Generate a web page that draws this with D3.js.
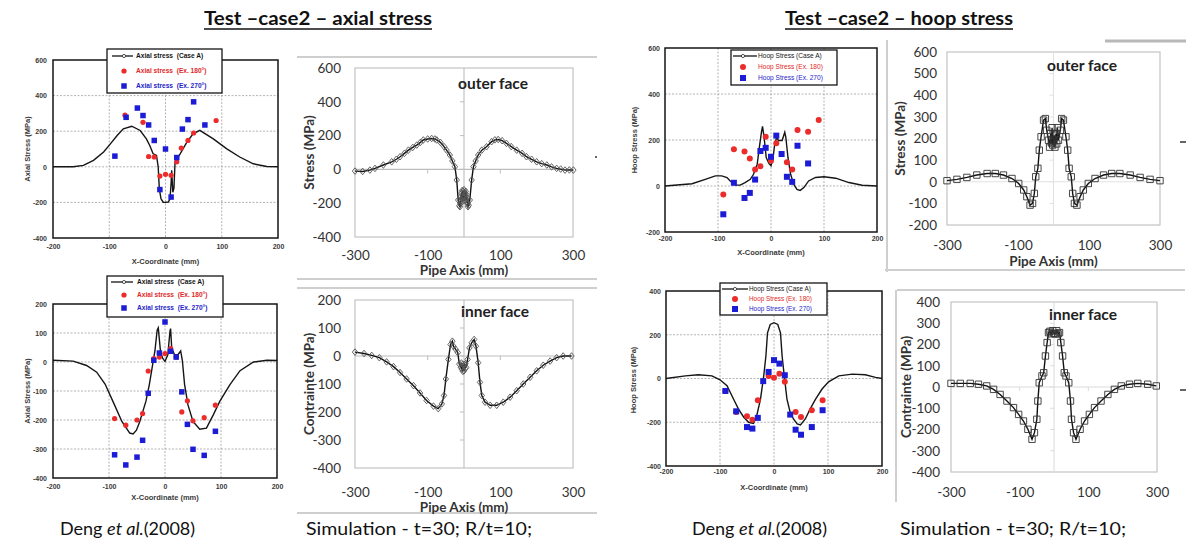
<!DOCTYPE html>
<html>
<head>
<meta charset="utf-8">
<script src="https://cdn.jsdelivr.net/npm/d3@7"></script>
<style>
body { margin: 0; background: #fff; }
</style>
</head>
<body>
<script>
// values, one array per series
var dengXTicks = [-200, -100, 0, 100, 200];
var simXTicks = [-300, -100, 100, 300];

var axialTopYTicks = [600, 400, 200, 0, -200, -400];
var axialBotYTicks = [200, 100, 0, -100, -200, -300, -400];
var hoopTopYTicks = [600, 400, 200, 0, -200];
var hoopBotYTicks = [400, 200, 0, -200, -400];
var simAxialOuterTicks = [600, 400, 200, 0, -200, -400];
var simAxialInnerTicks = [200, 100, 0, -100, -200, -300, -400];
var simHoopOuterTicks = [600, 500, 400, 300, 200, 100, 0, -100, -200];
var simHoopInnerTicks = [400, 300, 200, 100, 0, -100, -200, -300, -400];

var axialLegend = ['Axial stress  (Case A)', 'Axial stress  (Ex. 180°)', 'Axial stress  (Ex. 270°)'];
var hoopLegend = ['Hoop Stress (Case A)', 'Hoop Stress (Ex. 180)', 'Hoop Stress (Ex. 270)'];

// Deng et al. - axial, outer
var axialTopLine = [[-200,0],[-164,0],[-146,8],[-128,36],[-110,83],[-98,129],[-86,176],[-75,213],[-60,228],[-45,204],[-34,157],[-28,120],[-22,73],[-16,64],[-13,0],[-11,-124],[-8,-180],[-4,-199],[0,-200],[5,-198],[8,-180],[10,-90],[11,-19],[13,-143],[15,-120],[17,27],[26,73],[38,138],[49,185],[61,205],[85,157],[109,101],[132,55],[156,17],[180,2],[200,0]];
var axialTopRed = [[-72,290],[-40,250],[-30,58],[-20,55],[-10,-52],[0,-42],[10,-48],[20,28],[28,105],[40,148],[50,190],[90,260]];
var axialTopBlue = [[-90,60],[-70,278],[-50,330],[-40,288],[-30,235],[-20,148],[-10,-128],[0,100],[10,-170],[20,52],[30,212],[40,265],[50,365],[70,235]];

// Deng et al. - axial, inner
var axialBotLine = [[-200,6],[-164,3],[-140,-12],[-122,-35],[-107,-76],[-92,-140],[-77,-205],[-63,-245],[-57,-248],[-51,-235],[-45,-205],[-34,-135],[-28,-78],[-22,-8],[-18,38],[-14,110],[-12,118],[-8,35],[-4,12],[0,2],[5,25],[9,108],[10,115],[12,48],[17,25],[23,25],[28,38],[31,5],[35,-78],[41,-148],[50,-205],[62,-232],[74,-228],[86,-183],[98,-135],[116,-78],[134,-30],[158,0],[182,6],[200,5]];
var axialBotRed = [[-90,-195],[-70,-218],[-50,-200],[-40,-178],[-30,-31],[-20,12],[-10,17],[0,29],[10,46],[20,17],[30,-172],[40,-134],[50,-203],[70,-192],[90,-149]];
var axialBotBlue = [[-90,-320],[-70,-355],[-50,-328],[-40,-270],[-30,-108],[-20,6],[-10,31],[0,138],[10,37],[20,17],[30,-103],[40,-215],[50,-301],[70,-322],[90,-239]];

// Deng et al. - hoop, outer
var hoopTopLine = [[-200,0],[-149,10],[-124,29],[-105,44],[-93,44],[-83,37],[-77,22],[-67,4],[-58,4],[-49,15],[-39,29],[-33,51],[-26,95],[-22,168],[-18,234],[-16,259],[-13,212],[-9,124],[-4,98],[0,88],[4,124],[7,183],[11,212],[14,198],[21,198],[26,234],[28,212],[32,124],[37,51],[43,7],[49,-15],[55,-19],[62,-7],[71,22],[84,37],[100,40],[122,34],[147,15],[172,3],[200,0]];
var hoopTopRed = [[-90,-37],[-70,160],[-50,150],[-40,120],[-30,72],[-20,86],[-10,214],[0,110],[10,186],[30,103],[40,72],[50,244],[70,236],[90,287]];
var hoopTopBlue = [[-90,-123],[-70,14],[-50,-52],[-40,-30],[-30,28],[-20,152],[-10,166],[0,127],[10,219],[20,139],[30,40],[40,18],[50,175],[70,98]];

// Deng et al. - hoop, inner
var hoopBotLine = [[-200,0],[-164,12],[-140,17],[-115,12],[-100,-6],[-87,-33],[-75,-94],[-66,-139],[-56,-177],[-47,-200],[-38,-205],[-32,-170],[-25,-94],[-19,12],[-15,103],[-12,209],[-7,247],[0,255],[7,247],[12,209],[15,103],[19,12],[24,-94],[30,-155],[36,-185],[43,-208],[49,-212],[58,-185],[67,-139],[77,-94],[89,-48],[101,-15],[120,12],[145,20],[169,17],[188,5],[200,0]];
var hoopBotRed = [[-90,-57],[-70,-153],[-50,-173],[-40,-188],[-30,-99],[-10,12],[0,3],[10,22],[20,-15],[40,-153],[50,-176],[70,-145],[90,-99]];
var hoopBotBlue = [[-90,-57],[-70,-150],[-50,-222],[-40,-229],[-30,-180],[-20,-12],[-10,30],[0,84],[10,68],[20,15],[30,-165],[40,-234],[50,-257],[70,-222],[90,-145]];

// simulation - axial
var simAxialOuter = [[-300,-10],[-279,-12],[-259,-4],[-245,6],[-222,26],[-199,45],[-186,60],[-176,75],[-164,95],[-153,114],[-141,130],[-130,144],[-120,160],[-112,174],[-100,180],[-89,183],[-80,180],[-75,174],[-65,160],[-55,135],[-48,114],[-39,85],[-32,50],[-25,16],[-20,-63],[-16,-181],[-13,-215],[-11,-221],[-10,-200],[-9,-185],[-8,-160],[-7,-140],[-6,-175],[-5,-125],[-4,-190],[-3,-160],[-2,-130],[-1,-170],[0,-120],[1,-165],[2,-135],[3,-185],[4,-145],[5,-130],[6,-180],[7,-150],[8,-170],[9,-195],[10,-205],[11,-221],[13,-212],[16,-181],[21,-63],[26,16],[32,50],[39,85],[49,114],[62,134],[76,164],[85,175],[94,177],[105,170],[117,154],[130,135],[145,114],[160,95],[172,75],[186,60],[200,45],[214,34],[228,26],[241,15],[255,6],[266,2],[278,-4],[290,-3],[301,-4]];
var simAxialInner = [[-300,14],[-275,9],[-254,2],[-233,-6],[-213,-21],[-194,-38],[-176,-59],[-158,-82],[-139,-106],[-121,-132],[-103,-159],[-84,-179],[-71,-188],[-61,-171],[-55,-141],[-50,-82],[-43,-12],[-37,41],[-32,53],[-29,35],[-23,24],[-17,12],[-13,-29],[-9,-40],[-7,-25],[-6,-47],[-4,-30],[-3,-55],[-1,-35],[0,-53],[1,-30],[3,-45],[4,-28],[6,-41],[10,-12],[15,29],[21,47],[28,59],[33,35],[39,-24],[44,-94],[49,-141],[58,-165],[72,-176],[90,-176],[108,-165],[127,-147],[145,-124],[163,-100],[182,-76],[200,-53],[218,-33],[237,-18],[255,-6],[273,0],[296,0]];

// simulation - hoop
var simHoopOuter = [[-300,5],[-272,11],[-244,20],[-216,31],[-187,38],[-164,38],[-141,31],[-117,15],[-98,-8],[-84,-38],[-75,-69],[-66,-108],[-59,-100],[-54,-54],[-50,23],[-44,62],[-40,146],[-35,208],[-28,285],[-23,292],[-19,238],[-14,192],[-11,160],[-8,223],[-6,180],[-4,250],[-2,170],[0,192],[2,215],[4,160],[7,223],[9,175],[11,250],[14,192],[19,238],[23,292],[28,285],[35,208],[40,146],[44,62],[50,23],[54,-54],[59,-100],[66,-108],[75,-69],[84,-38],[98,-8],[117,15],[141,31],[164,38],[187,38],[216,31],[244,20],[272,11],[300,5]];
var simHoopInner = [[-300,17],[-273,17],[-244,17],[-220,13],[-196,5],[-176,-11],[-157,-35],[-137,-66],[-118,-97],[-103,-129],[-89,-160],[-76,-199],[-64,-246],[-57,-215],[-50,-152],[-47,-66],[-43,20],[-35,52],[-30,67],[-25,146],[-20,209],[-16,256],[-12,262],[-8,250],[-4,265],[0,253],[4,250],[8,265],[12,250],[16,256],[20,209],[25,146],[30,67],[35,52],[43,20],[48,-66],[51,-152],[57,-215],[64,-246],[76,-199],[89,-160],[103,-129],[118,-97],[137,-66],[157,-35],[176,-11],[196,5],[220,13],[244,17],[273,13],[298,5]];

var svg = d3.select('body').append('svg')
  .attr('width', 1199)
  .attr('height', 545);

var asText = function(d) { return String(d); };

// scanned figure from Deng et al.
var dengPanel = function(p) {
  var x = d3.scaleLinear().domain([-200, 200]).range([p.x0, p.x1]);
  var y = d3.scaleLinear().domain([d3.min(p.yTicks), d3.max(p.yTicks)]).range([p.y1, p.y0]);
  var g = svg.append('g').style('font-family', '"Liberation Sans", Arial, sans-serif');

  g.selectAll('.gx').data(dengXTicks.slice(1, -1))
    .enter().append('line')
    .attr('x1', x).attr('x2', x).attr('y1', p.y0).attr('y2', p.y1)
    .attr('stroke', '#a0a0a0').attr('stroke-width', 0.8).attr('stroke-dasharray', '2,1.5');
  g.selectAll('.gy').data(p.yTicks.slice(1, -1))
    .enter().append('line')
    .attr('x1', p.x0).attr('x2', p.x1).attr('y1', y).attr('y2', y)
    .attr('stroke', '#a0a0a0').attr('stroke-width', 0.8).attr('stroke-dasharray', '2,1.5');

  g.append('path').datum(p.line)
    .attr('d', d3.line().x(function(d) { return x(d[0]); }).y(function(d) { return y(d[1]); }))
    .attr('fill', 'none').attr('stroke', '#151515').attr('stroke-width', 1.4);

  g.selectAll('.red').data(p.red)
    .enter().append('circle')
    .attr('cx', function(d) { return x(d[0]); })
    .attr('cy', function(d) { return y(d[1]); })
    .attr('r', p.dot)
    .attr('fill', '#ec2b2b');
  g.selectAll('.blue').data(p.blue)
    .enter().append('rect')
    .attr('x', function(d) { return x(d[0]) - p.sq / 2; })
    .attr('y', function(d) { return y(d[1]) - p.sq / 2; })
    .attr('width', p.sq).attr('height', p.sq)
    .attr('fill', '#1c1cd6');

  g.append('rect')
    .attr('x', p.x0).attr('y', p.y0)
    .attr('width', p.x1 - p.x0).attr('height', p.y1 - p.y0)
    .attr('fill', 'none').attr('stroke', '#151515').attr('stroke-width', 1.5);

  var ax = g.append('g').attr('transform', 'translate(0,' + p.xLabelY + ')')
    .call(d3.axisBottom(x).tickValues(dengXTicks).tickSize(0).tickFormat(asText));
  var ay = g.append('g').attr('transform', 'translate(' + p.yLabelX + ',0)')
    .call(d3.axisLeft(y).tickValues(p.yTicks).tickSize(0).tickPadding(0).tickFormat(asText));
  [ax, ay].forEach(function(a) {
    a.select('.domain').remove();
    a.selectAll('text').attr('font-size', 7).attr('font-weight', 'bold').attr('fill', '#3a3a3a')
      .attr('font-family', '"Liberation Sans", Arial, sans-serif');
  });
  ax.selectAll('text').attr('y', 0).attr('dy', '0.35em');

  g.append('text')
    .attr('x', (p.x0 + p.x1) / 2).attr('y', p.xTitleY)
    .attr('text-anchor', 'middle').attr('dy', '0.35em')
    .attr('font-size', 7.5).attr('font-weight', 'bold').attr('fill', '#3a3a3a')
    .text('X-Coordinate (mm)');
  g.append('text')
    .attr('transform', 'translate(' + p.yTitleX + ',' + p.yTitleY + ') rotate(-90)')
    .attr('text-anchor', 'middle').attr('dy', '0.35em')
    .attr('font-size', 7.5).attr('font-weight', 'bold').attr('fill', '#3a3a3a')
    .text(p.yTitle);

  // legend
  var L = p.legend;
  g.append('rect').attr('x', L.x).attr('y', L.y).attr('width', L.w).attr('height', L.h)
    .attr('fill', '#fff').attr('stroke', '#151515').attr('stroke-width', 1.3);
  g.append('line').attr('x1', L.s0).attr('x2', L.s1).attr('y1', L.rows[0]).attr('y2', L.rows[0])
    .attr('stroke', '#151515').attr('stroke-width', 1.3);
  g.append('circle').attr('cx', L.mark).attr('cy', L.rows[0]).attr('r', 1.6)
    .attr('fill', '#fff').attr('stroke', '#151515').attr('stroke-width', 0.7);
  g.append('circle').attr('cx', L.mark).attr('cy', L.rows[1]).attr('r', p.dot).attr('fill', '#ec2b2b');
  g.append('rect').attr('x', L.mark - p.sq / 2).attr('y', L.rows[2] - p.sq / 2)
    .attr('width', p.sq).attr('height', p.sq).attr('fill', '#1c1cd6');
  g.selectAll('.lt').data(p.names)
    .enter().append('text')
    .attr('x', L.text)
    .attr('y', function(d, i) { return L.rows[i]; })
    .attr('dy', '0.35em')
    .attr('font-size', L.size).attr('font-weight', L.weight)
    .attr('fill', function(d, i) { return ['#151515', '#e02828', '#2424c8'][i]; })
    .style('white-space', 'pre')
    .text(function(d) { return d; });
};

var diamond = 'M0,-3.3L2.7,0L0,3.3L-2.7,0Z';
var square = 'M-3.2,-3.2H3.2V3.2H-3.2Z';

// Excel simulation chart
var simPanel = function(p) {
  var x = d3.scaleLinear().domain([-300, 300]).range([p.x0, p.x1]);
  var y = d3.scaleLinear().domain([d3.min(p.yTicks), d3.max(p.yTicks)]).range([p.y1, p.y0]);
  var g = svg.append('g').style('font-family', 'Lato, "Open Sans", sans-serif');

  g.append('rect')
    .attr('x', p.x0).attr('y', p.y0)
    .attr('width', p.x1 - p.x0).attr('height', p.y1 - p.y0)
    .attr('fill', 'none').attr('stroke', '#c4c4c4').attr('stroke-width', 1.2);
  g.append('line').attr('x1', x(0)).attr('x2', x(0)).attr('y1', p.y0).attr('y2', p.y1)
    .attr('stroke', p.zero).attr('stroke-width', 1.1);
  g.append('line').attr('x1', p.x0).attr('x2', p.x1).attr('y1', y(0)).attr('y2', y(0))
    .attr('stroke', p.zero).attr('stroke-width', 1.1);
  g.selectAll('.tx').data(simXTicks.slice(1, -1))
    .enter().append('line')
    .attr('x1', x).attr('x2', x).attr('y1', y(0)).attr('y2', y(0) + 4)
    .attr('stroke', p.zero);
  g.selectAll('.ty').data(p.yTicks.slice(1, -1))
    .enter().append('line')
    .attr('x1', x(0) - 4).attr('x2', x(0)).attr('y1', y).attr('y2', y)
    .attr('stroke', p.zero);

  g.append('path').datum(p.data)
    .attr('d', d3.line().x(function(d) { return x(d[0]); }).y(function(d) { return y(d[1]); }))
    .attr('fill', 'none').attr('stroke', '#111').attr('stroke-width', 1.4);
  g.selectAll('.mk').data(p.data)
    .enter().append('path')
    .attr('d', p.marker)
    .attr('transform', function(d) { return 'translate(' + x(d[0]) + ',' + y(d[1]) + ')'; })
    .attr('fill', 'none').attr('stroke', p.markColor).attr('stroke-width', 0.9);

  var ax = g.append('g').attr('transform', 'translate(0,' + p.xLabelY + ')')
    .call(d3.axisBottom(x).tickValues(simXTicks).tickSize(0).tickFormat(asText));
  var ay = g.append('g').attr('transform', 'translate(' + p.yLabelX + ',0)')
    .call(d3.axisLeft(y).tickValues(p.yTicks).tickSize(0).tickPadding(0).tickFormat(asText));
  [ax, ay].forEach(function(a) {
    a.select('.domain').remove();
    a.selectAll('text').attr('font-size', 13.5).attr('fill', '#333')
      .attr('font-family', 'Lato, "Open Sans", sans-serif');
  });
  ax.selectAll('text').attr('y', 0).attr('dy', '0.35em');

  var xt = g.append('text')
    .attr('x', (p.x0 + p.x1) / 2).attr('y', p.xTitleY)
    .attr('text-anchor', 'middle').attr('dy', '0.35em')
    .attr('font-size', 13.5).attr('font-weight', 'bold').attr('fill', '#333')
    .text('Pipe Axis (mm)');
  if (p.clip) {
    svg.append('clipPath').attr('id', p.clip)
      .append('rect').attr('x', p.x0 - 60).attr('y', 0).attr('width', 300).attr('height', p.clipY);
    xt.attr('clip-path', 'url(#' + p.clip + ')');
  }
  g.append('text')
    .attr('transform', 'translate(' + p.yTitleX + ',' + (p.y0 + p.y1) / 2 + ') rotate(-90)')
    .attr('text-anchor', 'middle').attr('dy', '0.35em')
    .attr('font-size', 13.5).attr('font-weight', 'bold').attr('fill', '#333')
    .text(p.yTitle);
  g.append('text')
    .attr('x', p.face[0]).attr('y', p.face[1])
    .attr('text-anchor', 'middle').attr('dy', '0.35em')
    .attr('font-size', 15.5).attr('font-weight', 'bold').attr('fill', '#222')
    .text(p.faceText);
};

// picture frames around the pasted images
var frameLines = [
  [297, 57, 597, 57], [297, 279, 597, 279], [297, 288, 597, 288], [297, 513, 597, 513],
  [887, 40, 887, 272], [885, 270, 1185, 270], [897, 290, 1185, 290], [896, 290, 896, 502]
];
svg.selectAll('.frame').data(frameLines)
  .enter().append('line')
  .attr('x1', function(d) { return d[0]; }).attr('y1', function(d) { return d[1]; })
  .attr('x2', function(d) { return d[2]; }).attr('y2', function(d) { return d[3]; })
  .attr('stroke', '#cfcfcf').attr('stroke-width', 2);
svg.append('line').attr('x1', 1105).attr('x2', 1186).attr('y1', 41).attr('y2', 41)
  .attr('stroke', '#b8b8b8').attr('stroke-width', 3);
[[595, 157, 597, 157], [1180, 142, 1186, 142], [1180, 390, 1186, 390]].forEach(function(d) {
  svg.append('line').attr('x1', d[0]).attr('y1', d[1]).attr('x2', d[2]).attr('y2', d[3])
    .attr('stroke', '#333').attr('stroke-width', 1.5);
});

dengPanel({
  x0: 53, x1: 278, y0: 60, y1: 238, yTicks: axialTopYTicks,
  line: axialTopLine, red: axialTopRed, blue: axialTopBlue, dot: 2.6, sq: 5.5,
  yLabelX: 47, xLabelY: 247, xTitleY: 261, yTitle: 'Axial Stress (MPa)', yTitleX: 27, yTitleY: 149,
  names: axialLegend,
  legend: { x: 107, y: 49, w: 115, h: 44, rows: [56, 71, 86], s0: 112, s1: 133, mark: 124, text: 136, size: 6.6, weight: 'bold' }
});
dengPanel({
  x0: 53, x1: 277, y0: 304, y1: 478, yTicks: axialBotYTicks,
  line: axialBotLine, red: axialBotRed, blue: axialBotBlue, dot: 2.6, sq: 5.5,
  yLabelX: 47, xLabelY: 487, xTitleY: 497, yTitle: 'Axial Stress (MPa)', yTitleX: 27, yTitleY: 391,
  names: axialLegend,
  legend: { x: 107, y: 276, w: 116, h: 41, rows: [282, 295, 308], s0: 111, s1: 133, mark: 124, text: 137, size: 6.6, weight: 'bold' }
});
dengPanel({
  x0: 665, x1: 877, y0: 48, y1: 232, yTicks: hoopTopYTicks,
  line: hoopTopLine, red: hoopTopRed, blue: hoopTopBlue, dot: 3, sq: 6,
  yLabelX: 660, xLabelY: 239, xTitleY: 252, yTitle: 'Hoop Stress (MPa)', yTitleX: 634, yTitleY: 140,
  names: hoopLegend,
  legend: { x: 731, y: 50, w: 106, h: 35, rows: [56, 67, 78], s0: 733, s1: 757, mark: 743, text: 758, size: 6.6, weight: 'normal' }
});
dengPanel({
  x0: 666, x1: 882, y0: 291, y1: 466, yTicks: hoopBotYTicks,
  line: hoopBotLine, red: hoopBotRed, blue: hoopBotBlue, dot: 3, sq: 6,
  yLabelX: 661, xLabelY: 472, xTitleY: 487, yTitle: 'Hoop Stress (MPa)', yTitleX: 633, yTitleY: 380,
  names: hoopLegend,
  legend: { x: 720, y: 283, w: 107, h: 32, rows: [289, 299, 309], s0: 722, s1: 748, mark: 735, text: 749, size: 6.4, weight: 'normal' }
});

simPanel({
  x0: 355, x1: 573, y0: 68, y1: 237, yTicks: simAxialOuterTicks, data: simAxialOuter,
  marker: diamond, markColor: '#555', zero: '#bdbdbd',
  yLabelX: 341, xLabelY: 255, xTitleY: 270, yTitle: 'Stress (MPa)', yTitleX: 309,
  face: [493, 84], faceText: 'outer face'
});
simPanel({
  x0: 355, x1: 573, y0: 300, y1: 468, yTicks: simAxialInnerTicks, data: simAxialInner,
  marker: diamond, markColor: '#555', zero: '#bdbdbd',
  yLabelX: 341, xLabelY: 492, xTitleY: 507, yTitle: 'Contrainte (MPa)', yTitleX: 309,
  face: [495, 312], faceText: 'inner face'
});
simPanel({
  x0: 947, x1: 1160, y0: 52, y1: 225, yTicks: simHoopOuterTicks, data: simHoopOuter,
  marker: square, markColor: '#333', zero: '#e2e2e2',
  yLabelX: 937, xLabelY: 245, xTitleY: 261, yTitle: 'Stress (MPa)', yTitleX: 900,
  face: [1082, 66], faceText: 'outer face'
});
simPanel({
  x0: 951, x1: 1157, y0: 302, y1: 472, yTicks: simHoopInnerTicks, data: simHoopInner,
  marker: square, markColor: '#333', zero: '#dcdcdc',
  yLabelX: 940, xLabelY: 492, xTitleY: 508, yTitle: 'Contrainte (MPa)', yTitleX: 906,
  face: [1083, 315], faceText: 'inner face', clip: 'cut8', clipY: 502
});

// headings
var headings = [['Test –case2 – axial stress', 204], ['Test –case2 – hoop stress', 785]];
headings.forEach(function(h) {
  svg.append('text')
    .attr('x', h[1]).attr('y', 25)
    .attr('font-family', 'Lato, sans-serif').attr('font-size', 19).attr('font-weight', 'bold')
    .attr('fill', '#111')
    .attr('textLength', 228).attr('lengthAdjust', 'spacingAndGlyphs')
    .text(h[0]);
  svg.append('line').attr('x1', h[1]).attr('x2', h[1] + 228).attr('y1', 29).attr('y2', 29)
    .attr('stroke', '#111').attr('stroke-width', 1.3);
});

// captions
[60, 692].forEach(function(x0) {
  var t = svg.append('text').attr('x', x0).attr('y', 535)
    .attr('font-family', 'Lato, sans-serif').attr('font-size', 18).attr('fill', '#111');
  t.append('tspan').text('Deng ');
  t.append('tspan').attr('font-style', 'italic').text('et al.');
  t.append('tspan').text('(2008)');
});
[306, 900].forEach(function(x0) {
  svg.append('text').attr('x', x0).attr('y', 535)
    .attr('font-family', 'Lato, sans-serif').attr('font-size', 18).attr('fill', '#111')
    .attr('textLength', 226).attr('lengthAdjust', 'spacingAndGlyphs')
    .text('Simulation - t=30;  R/t=10;');
});
</script>
</body>
</html>
